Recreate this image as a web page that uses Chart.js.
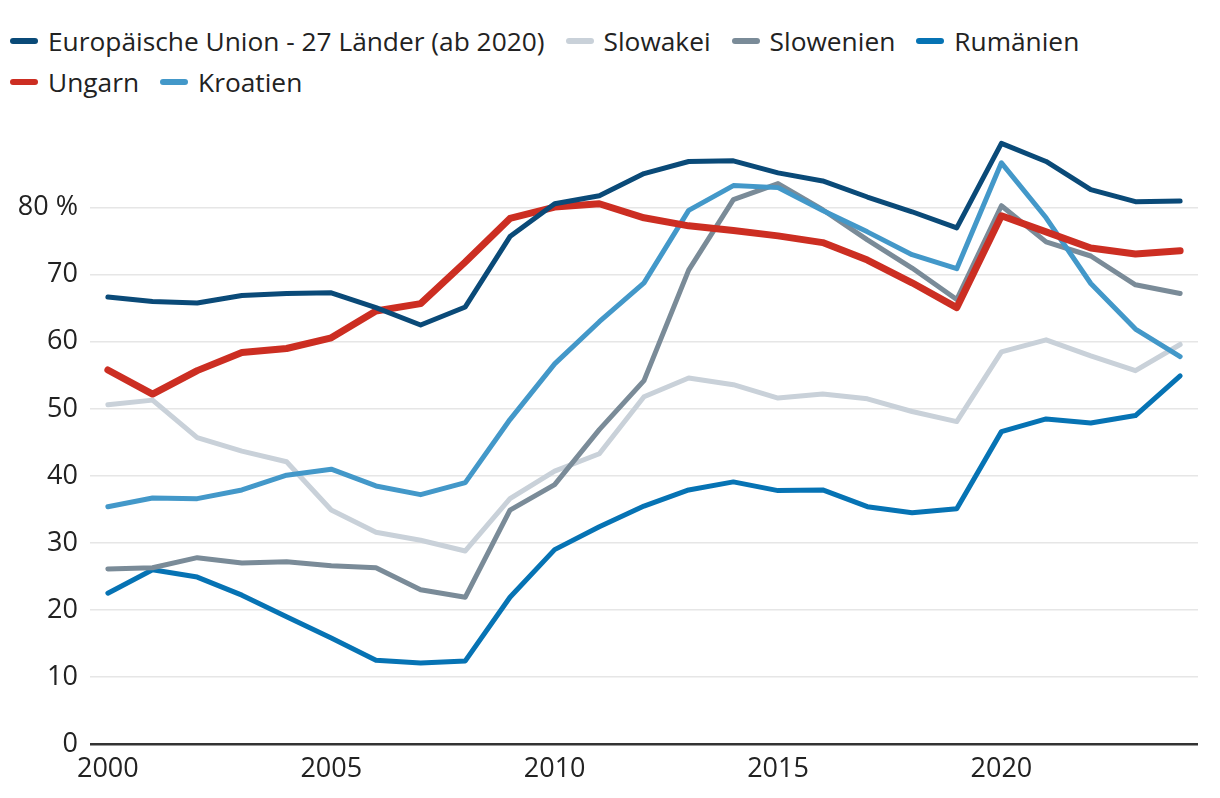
<!DOCTYPE html>
<html>
<head>
<meta charset="utf-8">
<script src="https://cdn.jsdelivr.net/npm/chart.js@4"></script>
<style>
  html, body { margin: 0; padding: 0; background: #fff; }
  #wrap { position: relative; width: 1220px; height: 798px; }
  #legend { position: absolute; left: 10px; top: 23px; width: 1120px; display: flex; flex-wrap: wrap;
    column-gap: 21px; row-gap: 5px; font-family: "Open Sans", sans-serif; font-size: 26.3px; color: #222; }
  .item { display: flex; align-items: center; height: 36px; }
  .sw { width: 28px; height: 6px; border-radius: 3px; margin-right: 10px; }
  canvas { position: absolute; left: 0; top: 0; }
</style>
</head>
<body>
<div id="wrap">
  <div id="legend"></div>
  <canvas id="chart" width="1220" height="798"></canvas>
</div>
<script>
const years = [2000,2001,2002,2003,2004,2005,2006,2007,2008,2009,2010,2011,2012,
  2013,2014,2015,2016,2017,2018,2019,2020,2021,2022,2023,2024];
const xTicks = [2000, 2005, 2010, 2015, 2020];
const yTicks = [0, 10, 20, 30, 40, 50, 60, 70, 80];

const eu = [66.7,66.0,65.8,66.9,67.2,67.3,65.1,62.5,65.2,75.7,80.6,81.8,85.1,86.9,87.0,85.2,84.0,81.6,79.4,77.0,89.6,86.9,82.7,80.9,81.0];
const slowakei = [50.6,51.3,45.7,43.7,42.1,34.9,31.6,30.4,28.8,36.6,40.7,43.3,51.8,54.6,53.6,51.6,52.2,51.5,49.6,48.1,58.5,60.3,57.9,55.7,59.6];
const slowenien = [26.1,26.3,27.8,27.0,27.2,26.6,26.3,23.0,21.9,34.9,38.7,46.9,54.2,70.7,81.2,83.6,79.7,75.2,71.0,66.3,80.3,74.9,72.8,68.5,67.2];
const rumaenien = [22.5,26.0,24.9,22.2,19.0,15.8,12.5,12.1,12.4,21.9,29.0,32.4,35.5,37.9,39.1,37.8,37.9,35.4,34.5,35.1,46.6,48.5,47.9,49.0,54.9];
const ungarn = [55.8,52.2,55.7,58.4,59.0,60.6,64.6,65.7,71.9,78.4,80.1,80.6,78.5,77.3,76.6,75.8,74.8,72.2,68.8,65.1,78.8,76.4,74.0,73.1,73.6];
const kroatien = [35.4,36.7,36.6,37.9,40.1,41.0,38.5,37.2,39.0,48.4,56.7,63.0,68.8,79.6,83.3,83.0,79.6,76.4,73.0,70.9,86.7,78.5,68.7,61.9,57.8];

const series = [
  { label: 'Europäische Union - 27 Länder (ab 2020)', data: eu, color: '#0a4a78', width: 5, order: 1 },
  { label: 'Slowakei', data: slowakei, color: '#c9d1d9', width: 5, order: 6 },
  { label: 'Slowenien', data: slowenien, color: '#7a8b98', width: 5, order: 4 },
  { label: 'Rumänien', data: rumaenien, color: '#0673b4', width: 5, order: 5 },
  { label: 'Ungarn', data: ungarn, color: '#cc2e22', width: 7, order: 2 },
  { label: 'Kroatien', data: kroatien, color: '#4398c9', width: 5, order: 3 }
];

const legend = document.getElementById('legend');
series.forEach(s => {
  const it = document.createElement('div');
  it.className = 'item';
  it.innerHTML = '<span class="sw" style="background:' + s.color + '"></span><span>' + s.label + '</span>';
  legend.appendChild(it);
});

new Chart(document.getElementById('chart'), {
  type: 'line',
  data: {
    datasets: series.map(s => ({
      label: s.label,
      data: years.map((y, i) => ({ x: y, y: s.data[i] })),
      borderColor: s.color,
      borderWidth: s.width,
      pointRadius: 0,
      tension: 0,
      order: s.order,
      borderCapStyle: 'round',
      borderJoinStyle: 'round'
    }))
  },
  options: {
    responsive: false,
    animation: false,
    layout: { padding: { top: 134, right: 22, left: 0, bottom: 4 } },
    plugins: { legend: { display: false }, tooltip: { enabled: false } },
    scales: {
      x: {
        type: 'linear',
        min: 1999.6,
        max: 2024.4,
        afterBuildTicks: axis => { axis.ticks = xTicks.map(v => ({ value: v })); },
        afterFit: axis => { axis.height = 50; },
        grid: { display: false, drawTicks: false },
        border: { display: false },
        ticks: {
          color: '#222',
          font: { family: 'Open Sans', size: 27 },
          padding: 9,
          maxRotation: 0,
          callback: v => String(v)
        }
      },
      y: {
        min: 0,
        max: 91,
        afterBuildTicks: axis => { axis.ticks = yTicks.map(v => ({ value: v })); },
        afterFit: axis => { axis.width = 90; },
        grid: {
          color: ctx => ctx.tick && ctx.tick.value === 0 ? '#333' : '#e6e6e6',
          lineWidth: ctx => ctx.tick && ctx.tick.value === 0 ? 2.5 : 1.5,
          drawTicks: false
        },
        border: { display: false },
        ticks: {
          color: '#222',
          font: { family: 'Open Sans', size: 27 },
          padding: 12,
          callback: v => v === 80 ? '80 %' : String(v)
        }
      }
    }
  }
});
</script>
</body>
</html>
